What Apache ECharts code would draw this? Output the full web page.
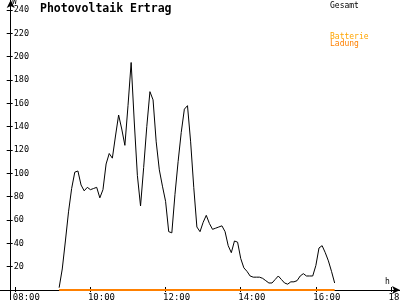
<!DOCTYPE html>
<html><head><meta charset="utf-8">
<script src="https://cdn.jsdelivr.net/npm/echarts@6/dist/echarts.min.js"></script>
<style>html,body{margin:0;padding:0;background:#fff}#c{width:400px;height:300px}</style>
</head><body><div id="c"></div>
<script>
const times = [
 '09:10','09:15','09:20','09:25','09:30','09:35','09:40','09:45','09:50','09:55',
 '10:00','10:05','10:10','10:15','10:20','10:25','10:30','10:35','10:40','10:45','10:50','10:55',
 '11:00','11:05','11:10','11:15','11:20','11:25','11:30','11:35','11:40','11:45','11:50','11:55',
 '12:00','12:05','12:10','12:15','12:20','12:25','12:30','12:35','12:40','12:45','12:50','12:55',
 '13:00','13:05','13:10','13:15','13:20','13:25','13:30','13:35','13:40','13:45','13:50','13:55',
 '14:00','14:05','14:10','14:15','14:20','14:25','14:30','14:35','14:40','14:45','14:50','14:55',
 '15:00','15:05','15:10','15:15','15:20','15:25','15:30','15:35','15:40','15:45','15:50','15:55',
 '16:00','16:05','16:10','16:15','16:20','16:25','16:30'];
const gesamt = [
 2,18,42,67,87,101,102,90,85,88,
 86,87,88,79,86,108,117,113,132,150,
 138,124,158,195,144,98,72,105,140,170,
 163,127,103,89,76,50,49,82,110,135,
 155,158,127,88,54,50,58,64,57,52,
 53,54,55,50,38,32,42,41,27,19,
 16,12,11,11,11,10,8,6,6,9,
 12,9,6,5,7,7,8,12,14,12,
 12,12,21,36,38,32,25,16,6];
const ladungTimes = ['09:10','16:30'];
const ladung = [0,0];
const xTickHours = [8,10,12,14,16,18];
const xTickLabels = ['08:00','10:00','12:00','14:00','16:00','18:00'];
const yTicks = [20,40,60,80,100,120,140,160,180,200,220,240];

function toH(t){const p=t.split(':').map(Number);return p[0]+p[1]/60;}
const PXH = 37.57;
const xMin = 8 - 15.3/PXH, xMax = 18 + 9/PXH;
const VPX = 20/23.333;
const yMin = -10*VPX, yMax = 240 + 10*VPX;
const labelShift = 2.5/PXH;

function labelFor(v){
  let best = 0, d = 1e9;
  xTickHours.forEach((h,i)=>{ if (Math.abs(h-v) < d) { d = Math.abs(h-v); best = i; } });
  return xTickLabels[best];
}

const chart = echarts.init(document.getElementById('c'), null, {renderer:'canvas'});
const mono = 'DejaVu Sans Mono';
function txt(x,y,s,font,fill){
  return {type:'text',x:x,y:y,z:100,style:{text:s,font:font,fill:fill,verticalAlign:'top',align:'left'}};
}
chart.setOption({
  animation:false,
  backgroundColor:'#fff',
  grid:{left:0,right:0,top:0,bottom:0,containLabel:false,outerBoundsMode:'none'},
  xAxis:[
    {type:'value',min:xMin,max:xMax,position:'bottom',offset:-10,
     axisLine:{show:true,onZero:false,symbol:['none','arrow'],symbolSize:[6,8],lineStyle:{color:'#000',width:1}},
     axisTick:{show:true,inside:true,length:3,customValues:xTickHours,lineStyle:{color:'#000'}},
     axisLabel:{show:true,customValues:xTickHours.map(h=>h-labelShift),align:'left',margin:3,
       fontFamily:mono,fontSize:9,color:'#000',formatter:function(v){return labelFor(v);}},
     splitLine:{show:false}},
    {type:'value',min:xMin,max:xMax,position:'bottom',offset:-10,
     axisLine:{show:false,onZero:false},
     axisTick:{show:true,inside:false,length:2,customValues:xTickHours,lineStyle:{color:'#000'}},
     axisLabel:{show:false},splitLine:{show:false}}
  ],
  yAxis:[
    {type:'value',min:yMin,max:yMax,position:'left',offset:-10.7,
     axisLine:{show:true,onZero:false,symbol:['none','arrow'],symbolSize:[6,8],lineStyle:{color:'#000',width:1}},
     axisTick:{show:true,inside:false,length:4,customValues:yTicks,lineStyle:{color:'#000'}},
     axisLabel:{show:true,inside:true,margin:3,customValues:yTicks,fontFamily:mono,fontSize:8.5,color:'#000',verticalAlign:'middle'},
     splitLine:{show:false}},
    {type:'value',min:yMin,max:yMax,position:'left',offset:-10.7,
     axisLine:{show:false,onZero:false},
     axisTick:{show:true,inside:true,length:2,customValues:yTicks,lineStyle:{color:'#000'}},
     axisLabel:{show:false},splitLine:{show:false}}
  ],
  series:[
    {name:'Gesamt',type:'line',xAxisIndex:0,yAxisIndex:0,showSymbol:false,symbol:'none',
     lineStyle:{color:'#000',width:1},
     data:times.map((t,i)=>[toH(t),gesamt[i]])},
    {name:'Batterie Ladung',type:'line',xAxisIndex:0,yAxisIndex:0,showSymbol:false,symbol:'none',
     lineStyle:{color:'#FF8000',width:2},
     data:ladungTimes.map((t,i)=>[toH(t),ladung[i]])}
  ],
  graphic:[
    txt(40,3.2,'Photovoltaik Ertrag','bold 11.5px "DejaVu Sans Mono"','#000'),
    txt(12,-2,'W','8px "DejaVu Sans Mono"','#000'),
    txt(385,278.2,'h','8px "DejaVu Sans Mono"','#000'),
    txt(330,1.6,'Gesamt','8px "DejaVu Sans Mono"','#000'),
    txt(330,33.2,'Batterie','8px "DejaVu Sans Mono"','#FFA500'),
    txt(330,40.2,'Ladung','8px "DejaVu Sans Mono"','#FF8000')
  ]
});
</script></body></html>
